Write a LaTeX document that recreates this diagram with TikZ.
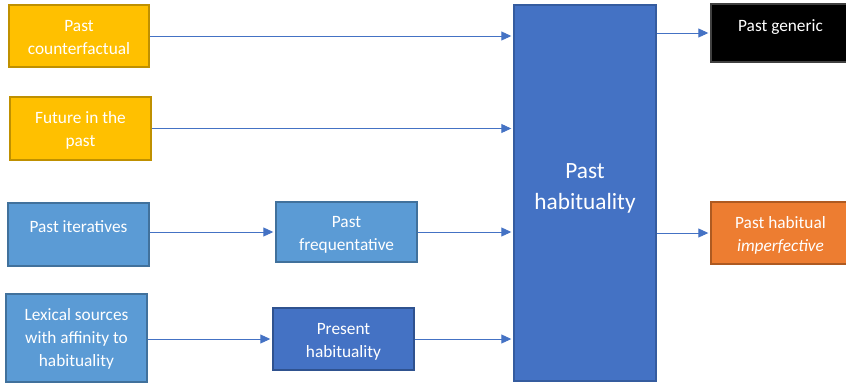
\documentclass[tikz,border=0pt]{standalone}
\usepackage{fontspec}
\setmainfont{Carlito}
\usetikzlibrary{positioning,arrows.meta}
\definecolor{hgold}{HTML}{FFC000}
\definecolor{hgoldline}{HTML}{BF9000}
\definecolor{hlight}{HTML}{5B9BD5}
\definecolor{hlightline}{HTML}{41719C}
\definecolor{hblue}{HTML}{4472C4}
\definecolor{hblueline}{HTML}{2F528F}
\definecolor{horange}{HTML}{ED7D31}
\definecolor{horangeline}{HTML}{AE5A21}

\begin{document}
\begin{tikzpicture}[x=1pt,y=-1pt,
  box/.style={draw, line width=1.4pt, minimum width=141pt, minimum height=62pt, inner sep=0pt},
  lbl/.style={text=white, align=center, inner sep=0pt, font=\fontsize{17.3}{23}\selectfont},
  link/.style={-{Triangle[length=10pt,width=9pt]}, hblue, line width=0.9pt, shorten >=2pt}]
 \useasboundingbox (0,0) rectangle (846,383);
 % boxes
 \node[box, draw=hgoldline, fill=hgold, minimum width=140pt] (pc) at (79,36) {};
 \node[box, draw=hgoldline, fill=hgold, minimum height=63pt] (fp) at (80.5,128.5) {};
 \node[box, draw=hlightline, fill=hlight, minimum height=63pt] (pi) at (78.5,234.5) {};
 \node[box, draw=hlightline, fill=hlight, minimum height=88pt] (ls) at (76.5,338) {};
 \node[box, draw=hlightline, fill=hlight, minimum height=60pt] (pf) at (346.5,232) {};
 \node[box, draw=hblueline, fill=hblue] (prh) at (343.5,339) {};
 \node[box, draw=hblueline!70!hblue, fill=hblue, minimum width=142pt, minimum height=376pt] (ph) at (585,193) {};
 \node[box, draw=black!75, fill=black, minimum width=139pt, minimum height=58pt] (pg) at (780.5,33) {};
 \node[box, draw=horangeline, fill=horange, minimum width=139pt] (pim) at (780.5,233) {};
 % texts
 \node[lbl, below=16pt of pc.north] (pct) {Past\\counterfactual};
 \node[lbl, below=15pt of fp.north] (fpt) {Future in the\\past};
 \node[lbl, below=18pt of pi.north] (pit) {Past iteratives};
 \node[lbl, below=15pt of ls.north] (lst) {Lexical sources\\with affinity to\\habituality};
 \node[lbl, below=15pt of pf.north] (pft) {Past\\frequentative};
 \node[lbl, below=15.5pt of prh.north] (prht) {Present\\habituality};
 \node[lbl, below=16pt of pg.north] (pgt) {Past generic};
 \node[lbl, below=15pt of pim.north] (pimt) {Past habitual\\\textit{imperfective}};
 \node[lbl, font=\fontsize{23.3}{31}\selectfont] (pht) at (585,188) {Past\\habituality};
 % connectors
 \draw[link] (pc.east) -- (ph.west |- pc.east);
 \draw[link] (fp.east) -- (ph.west |- fp.east);
 \draw[link] (pi.east |- pf.west) -- (pf.west);
 \draw[link] (pf.east) -- (ph.west |- pf.east);
 \draw[link] (ls.east |- prh.west) -- (prh.west);
 \draw[link] (prh.east) -- (ph.west |- prh.east);
 \draw[link] (ph.east |- pg.west) -- (pg.west);
 \draw[link] (ph.east |- pim.west) -- (pim.west);
\end{tikzpicture}
\end{document}
